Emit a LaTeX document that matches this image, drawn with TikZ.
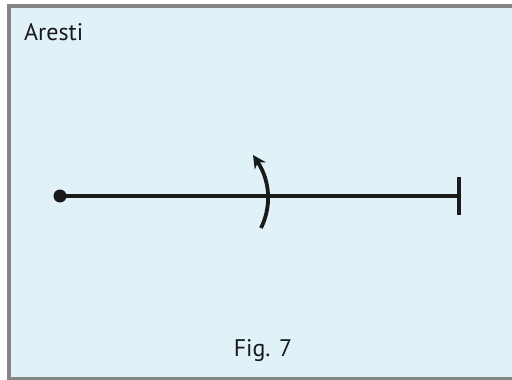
\documentclass[tikz,border=0pt]{standalone}
\usepackage{fontspec}
\setmainfont{PT Sans}
\usetikzlibrary{arrows.meta}
\definecolor{bgblue}{HTML}{E0F1F8}
\definecolor{framegray}{HTML}{858585}
\definecolor{ink}{HTML}{1A1A1A}
\tikzset{
  frame/.style={draw=framegray, line width=4.5pt, fill=bgblue},
  mainline/.style={draw=ink, line width=3.6pt},
  lbl/.style={font=\fontsize{24}{28}\selectfont, text=ink, inner sep=0pt},
  rotarrow/.style={draw=ink, line width=3.8pt, -{Stealth[length=13pt,width=13pt]}}
}
\begin{document}
\begin{tikzpicture}[x=1pt,y=-1pt]
\useasboundingbox (0,0) rectangle (512,380);
\fill[white] (0,0) rectangle (512,380);
\draw[frame] (9,6) rectangle (516,379);
\node[lbl, anchor=north west] (title) at (24,23) {Aresti};
\node[lbl] (fig) at (263,351) {Fig. 7};
\coordinate (start) at (60,196);
\coordinate (endp) at (459,196);
\fill[ink] (start) circle (6.5);
\draw[mainline] (start) -- (endp);
\draw[draw=ink, line width=4pt] (459,177) -- (459,215);
\coordinate (abot) at (261,228);
\coordinate (atop) at (253,155);
\draw[rotarrow] (abot) .. controls (271,208) and (271,182) .. (atop);
\end{tikzpicture}
\end{document}
